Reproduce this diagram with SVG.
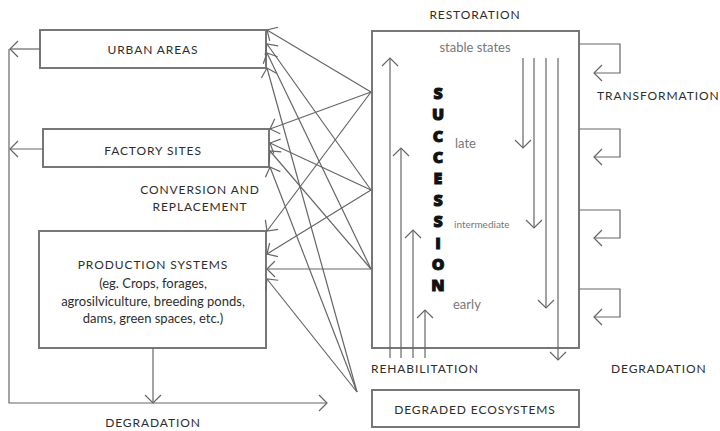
<svg xmlns="http://www.w3.org/2000/svg" width="720" height="431" viewBox="0 0 720 431">
<defs>
<style>
.box{fill:#fff;stroke:#777;stroke-width:2}
.ln{fill:none;stroke:#666;stroke-width:1.2}
.lbl{font-family:Lato,"Open Sans",sans-serif;font-size:12px;fill:#2e2e2e;letter-spacing:0.9px}
.body{font-family:Lato,"Open Sans",sans-serif;font-size:13px;fill:#2e2e2e}
.small{font-family:Lato,"Open Sans",sans-serif;fill:#777}
.succ{font-family:"Open Sans","DejaVu Sans",sans-serif;font-size:16px;font-weight:800;fill:#111;stroke:#111;stroke-width:1;text-anchor:middle}
</style>
<marker id="ah" viewBox="-10 -10 12 20" refX="0" refY="0" markerWidth="12" markerHeight="20" markerUnits="userSpaceOnUse" orient="auto" overflow="visible">
<path d="M-8,-8 L0,0 L-8,8" fill="none" stroke="#666" stroke-width="1.2"/>
</marker>
</defs>
<rect width="720" height="431" fill="#fff"/>

<g id="urban-areas">
<rect class="box" x="40" y="30" width="226" height="38"/>
<text class="lbl" x="153" y="54" text-anchor="middle">URBAN AREAS</text>
</g>
<g id="factory-sites">
<rect class="box" x="43" y="129" width="226" height="38"/>
<text class="lbl" x="153" y="155" text-anchor="middle">FACTORY SITES</text>
</g>
<g id="production-systems">
<rect class="box" x="39" y="231" width="227" height="117"/>
<text class="lbl" x="153" y="269" text-anchor="middle">PRODUCTION SYSTEMS</text>
<text class="body" x="153" y="288" text-anchor="middle">(eg. Crops, forages,</text>
<text class="body" x="153" y="306" text-anchor="middle">agrosilviculture, breeding ponds,</text>
<text class="body" x="153" y="323" text-anchor="middle">dams, green spaces, etc.)</text>
</g>
<g id="succession">
<rect class="box" x="372" y="31" width="207" height="317"/>
<text class="small" x="475" y="52" font-size="13" text-anchor="middle">stable states</text>
<text class="small" x="455" y="148" font-size="13">late</text>
<text class="small" x="454" y="228" font-size="10">intermediate</text>
<text class="small" x="453" y="309" font-size="13">early</text>
<text class="succ" x="438" y="99">S</text>
<text class="succ" x="438" y="120">U</text>
<text class="succ" x="438" y="142">C</text>
<text class="succ" x="438" y="163">C</text>
<text class="succ" x="438" y="184">E</text>
<text class="succ" x="438" y="206">S</text>
<text class="succ" x="438" y="227">S</text>
<text class="succ" x="438" y="249">I</text>
<text class="succ" x="438" y="270">O</text>
<text class="succ" x="438" y="291">N</text>
</g>
<g id="degraded-ecosystems">
<rect class="box" x="372" y="390" width="207" height="37"/>
<text class="lbl" x="475" y="414" text-anchor="middle">DEGRADED ECOSYSTEMS</text>
</g>

<g id="labels">
<text class="lbl" x="475" y="19" text-anchor="middle">RESTORATION</text>
<text class="lbl" x="597" y="100">TRANSFORMATION</text>
<text class="lbl" x="200" y="194" text-anchor="middle">CONVERSION AND</text>
<text class="lbl" x="200" y="211" text-anchor="middle">REPLACEMENT</text>
<text class="lbl" x="371" y="373">REHABILITATION</text>
<text class="lbl" x="611" y="373">DEGRADATION</text>
<text class="lbl" x="153" y="427" text-anchor="middle">DEGRADATION</text>
</g>

<g id="connectors" class="ln" marker-end="url(#ah)">
<path d="M40,49 H10"/>
<path d="M43,149 H10"/>
<path d="M9,49 V403 H327"/>
<path d="M153,348 V403"/>
<path d="M371,92 L267,30"/>
<path d="M371,92 L270,129"/>
<path d="M371,92 L267,231"/>
<path d="M371,190 L267,44"/>
<path d="M371,190 L270,143"/>
<path d="M371,190 L267,254"/>
<path d="M371,269 L267,53"/>
<path d="M371,269 L270,151"/>
<path d="M371,269 L267,269"/>
<path d="M357,392 L267,68"/>
<path d="M357,392 L270,167"/>
<path d="M357,392 L267,279"/>
<path d="M390,358 V58"/>
<path d="M401,358 V148"/>
<path d="M413,358 V230"/>
<path d="M425,358 V310"/>
<path d="M523,58 V148"/>
<path d="M534,58 V228"/>
<path d="M546,58 V308"/>
<path d="M558,58 V360"/>
<path d="M579,44 H620 V73 H594"/>
<path d="M579,129 H620 V157 H594"/>
<path d="M579,210 H620 V238 H594"/>
<path d="M579,289 H620 V317 H594"/>
</g>
</svg>
